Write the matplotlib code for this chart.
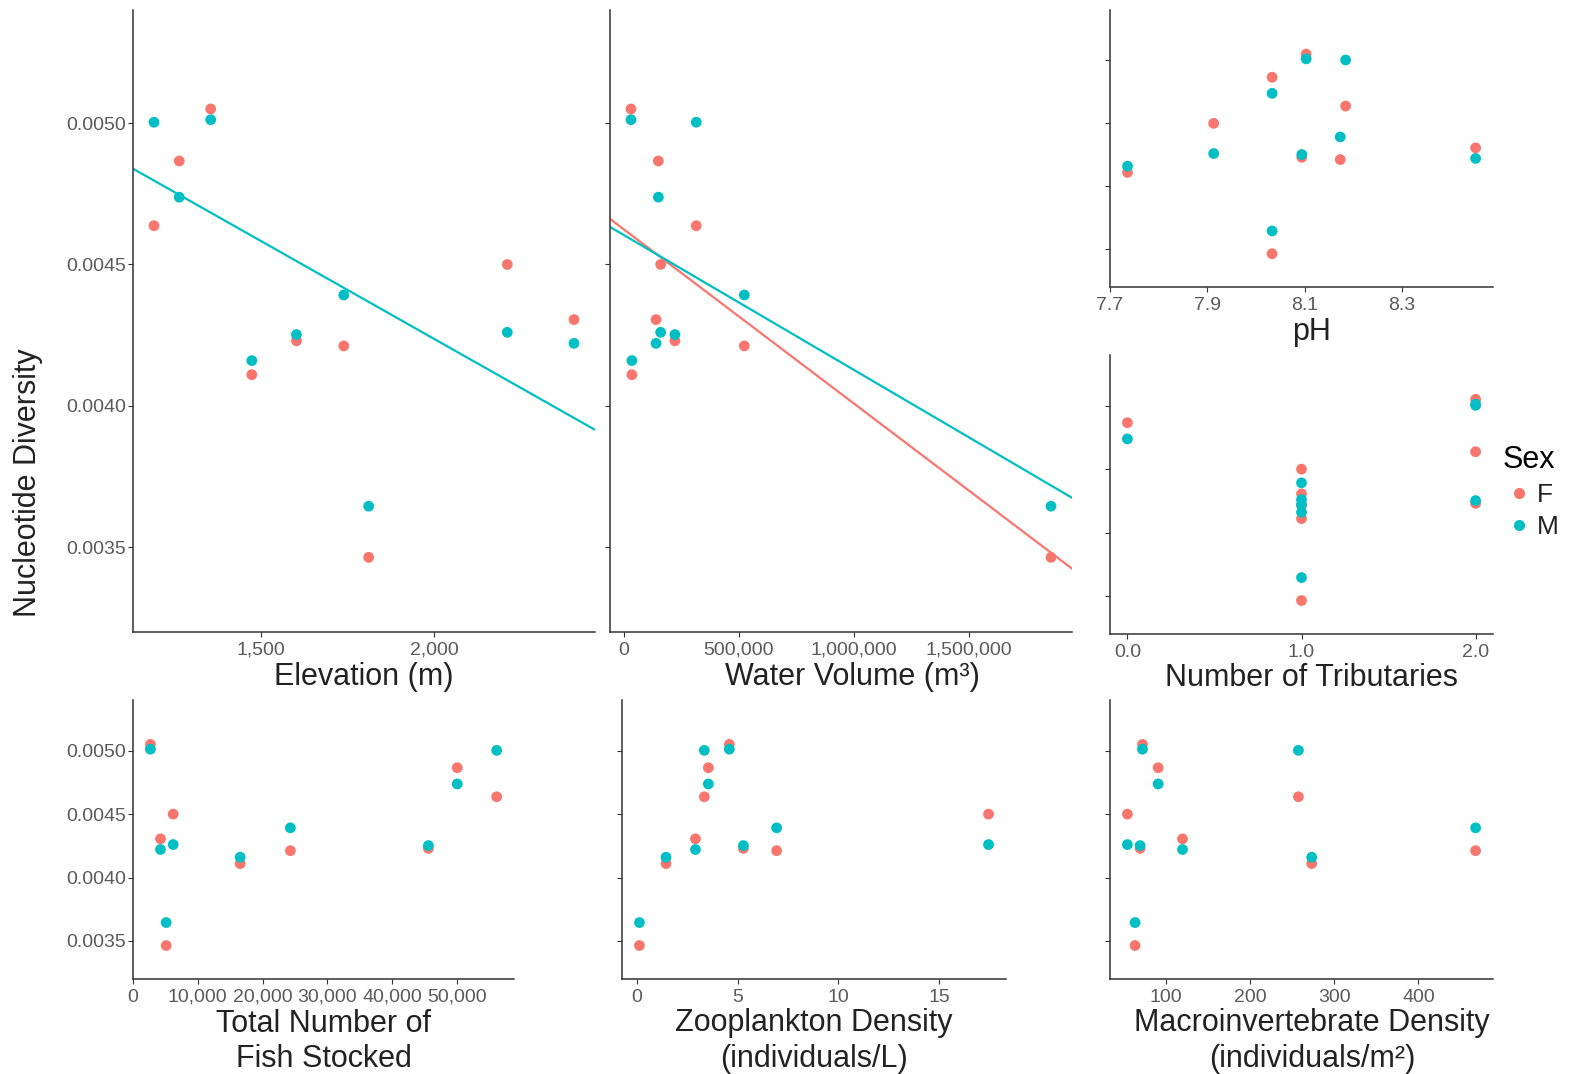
import numpy as np
import matplotlib
matplotlib.use("Agg")
import matplotlib.pyplot as plt
from matplotlib.ticker import FuncFormatter, FormatStrFormatter
from matplotlib.lines import Line2D

plt.rcParams['font.family'] = ['Liberation Sans', 'DejaVu Sans']

# lakes: one value per lake, females and males
div_F = [0.004637, 0.004866, 0.005050, 0.004110, 0.004230, 0.004212, 0.003464, 0.004500, 0.004305]
div_M = [0.005003, 0.004738, 0.005012, 0.004160, 0.004252, 0.004392, 0.003645, 0.004260, 0.004221]

elevation = [1190, 1263, 1354, 1473, 1602, 1739, 1811, 2212, 2405]
volume = [315000, 150000, 31000, 35000, 222000, 524000, 1858000, 160000, 140000]
ph = [8.184, 8.033, 8.103, 7.736, 8.094, 8.173, 8.033, 7.913, 8.451]
tributaries = [2, 0, 2, 1, 2, 1, 1, 1, 1]
fish_stocked = [56120, 50030, 2690, 16540, 45580, 24290, 5120, 6200, 4240]
zooplankton = [3.35, 3.55, 4.59, 1.45, 5.29, 6.94, 0.13, 17.46, 2.91]
macroinv = [257.4, 90.9, 72.3, 273.2, 69.5, 467.8, 63.5, 54.4, 119.8]

# linear fits (intercept, slope)
elev_fit_M = (0.005619, -6.91e-7)
vol_fit_F = (0.004624, -6.155e-10)
vol_fit_M = (0.004604, -4.767e-10)

col_F = "#F8766D"
col_M = "#00BFC4"
ylims = (0.0032, 0.0054)
yticks = [0.0035, 0.0040, 0.0045, 0.0050]

W, H = 1572, 1074
fig = plt.figure(figsize=(W / 100, H / 100), dpi=100)


def box(l, t, r, b):
    return [l / W, 1 - b / H, (r - l) / W, (b - t) / H]


comma = FuncFormatter(lambda v, p: f"{v:,.0f}")


def panel(rect, x, xlabel, xticks, xfmt=None, ylabels=False, fits=(), labelx=0.5):
    ax = fig.add_axes(rect)
    ax.scatter(x, div_F, s=60, color=col_F, edgecolors='none', zorder=3)
    ax.scatter(x, div_M, s=60, color=col_M, edgecolors='none', zorder=3)
    ax.margins(x=0.05)
    ax.set_ylim(*ylims)
    ax.set_xticks(xticks)
    ax.set_xlim(ax.get_xlim())
    for (b0, b1), c in fits:
        xx = np.array(ax.get_xlim())
        ax.plot(xx, b0 + b1 * xx, color=c, lw=1.6, zorder=2)
    if xfmt is not None:
        ax.xaxis.set_major_formatter(xfmt)
    ax.set_yticks(yticks)
    if ylabels:
        ax.yaxis.set_major_formatter(FormatStrFormatter('%.4f'))
    else:
        ax.set_yticklabels([])
    for s in ['top', 'right']:
        ax.spines[s].set_visible(False)
    for s in ['left', 'bottom']:
        ax.spines[s].set_color('#333333')
        ax.spines[s].set_linewidth(1.1)
    ax.tick_params(length=3.5, width=0.8, color='#333333', labelsize=14,
                   labelcolor='#5a5a5a', pad=1.5)
    ax.tick_params(axis='x', pad=3.5)
    ax.set_xlabel(xlabel, fontsize=22, color='#222222', labelpad=2, linespacing=1.25)
    ax.xaxis.label.set_x(labelx)
    return ax


panel(box(133, 10, 595, 632), elevation, "Elevation (m)", [1500, 2000], comma,
      ylabels=True, fits=[(elev_fit_M, col_M)])
panel(box(610, 10, 1072, 632), volume, "Water Volume (m³)", [0, 500000, 1000000, 1500000], comma,
      fits=[(vol_fit_F, col_F), (vol_fit_M, col_M)], labelx=0.524)
panel(box(1110, 10, 1493, 287), ph, "pH", [7.7, 7.9, 8.1, 8.3], FormatStrFormatter('%.1f'), labelx=0.527)
panel(box(1110, 355, 1493, 634), tributaries, "Number of Tributaries", [0, 1, 2],
      FormatStrFormatter('%.1f'), labelx=0.527)
panel(box(133, 700, 514, 979), fish_stocked, "Total Number of\nFish Stocked",
      [0, 10000, 20000, 30000, 40000, 50000], comma, ylabels=True)
panel(box(622, 700, 1006, 979), zooplankton, "Zooplankton Density\n(individuals/L)", [0, 5, 10, 15])
panel(box(1110, 700, 1493, 979), macroinv, "Macroinvertebrate Density\n(individuals/m²)",
      [100, 200, 300, 400], labelx=0.527)

fig.text(28 / W, 1 - 483 / H, "Nucleotide Diversity", rotation=90, fontsize=22,
         color='#222222', ha='center', va='center')

handles = [Line2D([], [], marker='o', ls='none', color=col_F, markersize=8, markeredgewidth=0),
           Line2D([], [], marker='o', ls='none', color=col_M, markersize=8, markeredgewidth=0)]
fig.legend(handles, ["F", "M"], title="Sex", loc='center left',
           bbox_to_anchor=(1479 / W, 1 - 492 / H), frameon=False, fontsize=19,
           title_fontsize=22, handletextpad=0.1, handlelength=1.2, labelspacing=0.3,
           alignment='left', labelcolor='#222222')

fig.savefig("out.png", dpi=100)
